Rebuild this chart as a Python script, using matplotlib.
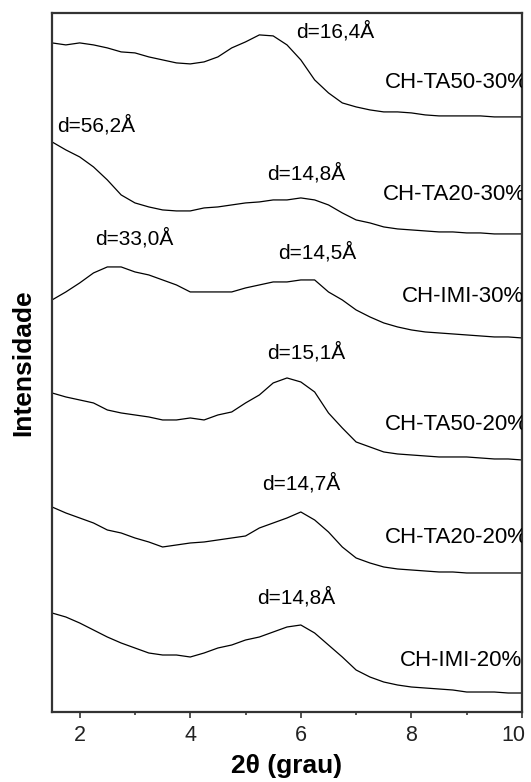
import numpy as np
import matplotlib
matplotlib.use("Agg")
import matplotlib.pyplot as plt
from matplotlib.ticker import MultipleLocator
from matplotlib.transforms import ScaledTranslation

plt.rcParams['font.family'] = ['Liberation Sans', 'DejaVu Sans']

# 2theta grid (degrees) on which the curves were read
two_theta = [1.5, 1.75, 2.0, 2.25, 2.5, 2.75, 3.0, 3.25, 3.5, 3.75, 4.0, 4.25,
             4.5, 4.75, 5.0, 5.25, 5.5, 5.75, 6.0, 6.25, 6.5, 6.75, 7.0, 7.25,
             7.5, 7.75, 8.0, 8.25, 8.5, 8.75, 9.0, 9.25, 9.5, 9.75, 10.0]

# intensities (a.u., already stacked with offsets as in the figure)
ch_ta50_30 = [669, 667, 669, 667, 664, 660, 659, 655, 652, 649, 648, 650, 655, 664,
              670, 677, 676, 667, 652, 632, 619, 609, 605, 602, 600, 600, 599, 597,
              596, 596, 596, 596, 595, 595, 595]
ch_ta20_30 = [570, 562, 555, 545, 532, 517, 509, 505, 502, 501, 501, 504, 505, 507,
              509, 510, 512, 512, 514, 512, 507, 499, 492, 489, 485, 483, 482, 481,
              480, 480, 479, 479, 478, 478, 478]
ch_imi_30 = [412, 420, 429, 439, 445, 445, 440, 437, 432, 427, 420, 420, 420, 420,
             424, 427, 430, 430, 432, 432, 420, 412, 402, 395, 389, 385, 382, 380,
             379, 378, 377, 376, 375, 375, 374]
ch_ta50_20 = [319, 315, 312, 309, 302, 299, 297, 295, 292, 292, 294, 292, 297, 300,
              309, 317, 329, 334, 330, 320, 299, 284, 270, 265, 260, 258, 257, 256,
              255, 255, 255, 254, 253, 253, 252]
ch_ta20_20 = [205, 199, 194, 189, 182, 179, 174, 170, 165, 167, 169, 170, 172, 174,
              176, 184, 189, 194, 200, 192, 180, 165, 154, 149, 145, 143, 142, 141,
              140, 140, 139, 139, 139, 139, 139]
ch_imi_20 = [99, 95, 89, 82, 75, 69, 64, 59, 57, 57, 55, 59, 64, 67, 72, 75, 80, 85,
             87, 79, 67, 55, 42, 35, 30, 27, 25, 24, 23, 22, 20, 20, 20, 19, 19]

samples = ['CH-TA50-30%', 'CH-TA20-30%', 'CH-IMI-30%',
           'CH-TA50-20%', 'CH-TA20-20%', 'CH-IMI-20%']
curves = [ch_ta50_30, ch_ta20_30, ch_imi_30, ch_ta50_20, ch_ta20_20, ch_imi_20]

# sample name positions (2theta, intensity)
name_pos = [(7.52, 629), (7.48, 517), (7.82, 415), (7.52, 287), (7.52, 174), (7.79, 52)]

# d-spacing annotations
d_labels = ['d=16,4Å', 'd=56,2Å', 'd=14,8Å', 'd=33,0Å', 'd=14,5Å',
            'd=15,1Å', 'd=14,7Å', 'd=14,8Å']
d_pos = [(5.91, 681), (1.60, 587), (5.39, 539), (2.28, 474), (5.59, 460),
         (5.39, 360), (5.30, 229), (5.21, 115)]

xticks = [2, 4, 6, 8, 10]

fig = plt.figure(figsize=(5.31, 7.82), dpi=100)
ax = fig.add_axes([0.098, 0.0895, 0.885, 0.894])

for y in curves:
    ax.plot(two_theta, y, color='black', lw=0.9)

for name, (x, y) in zip(samples, name_pos):
    t = ax.text(x, y, name, fontsize=16, ha='left', va='center')
    t.set_clip_on(True)

for lab, (x, y) in zip(d_labels, d_pos):
    ax.text(x, y, lab, fontsize=15, ha='left', va='center')

ax.set_xlim(1.5, 10)
ax.set_ylim(0, 699)
ax.set_xticks(xticks, [str(v) for v in xticks])
ax.xaxis.set_minor_locator(MultipleLocator(1))
ax.set_yticks([])
ax.tick_params(axis='x', which='major', direction='out', length=4, width=1.2,
               labelsize=15.5, pad=5, color='#333333', labelcolor='#222222')
ax.tick_params(axis='x', which='minor', direction='out', length=2.5, width=1.2,
               color='#333333')
for spine in ax.spines.values():
    spine.set_linewidth(1.6)
    spine.set_color('#333333')

# last tick label sits against the figure edge: right-align it a bit past the tick
lbl = ax.xaxis.get_major_ticks()[-1].label1
lbl.set_horizontalalignment('right')
lbl.set_transform(lbl.get_transform() + ScaledTranslation(3 / 100, 0, fig.dpi_scale_trans))

ax.set_xlabel('2θ (grau)', fontsize=19, fontweight='bold', labelpad=6)
ax.set_ylabel('Intensidade', fontsize=19, fontweight='bold', labelpad=12)

fig.savefig('out.png', dpi=100)
